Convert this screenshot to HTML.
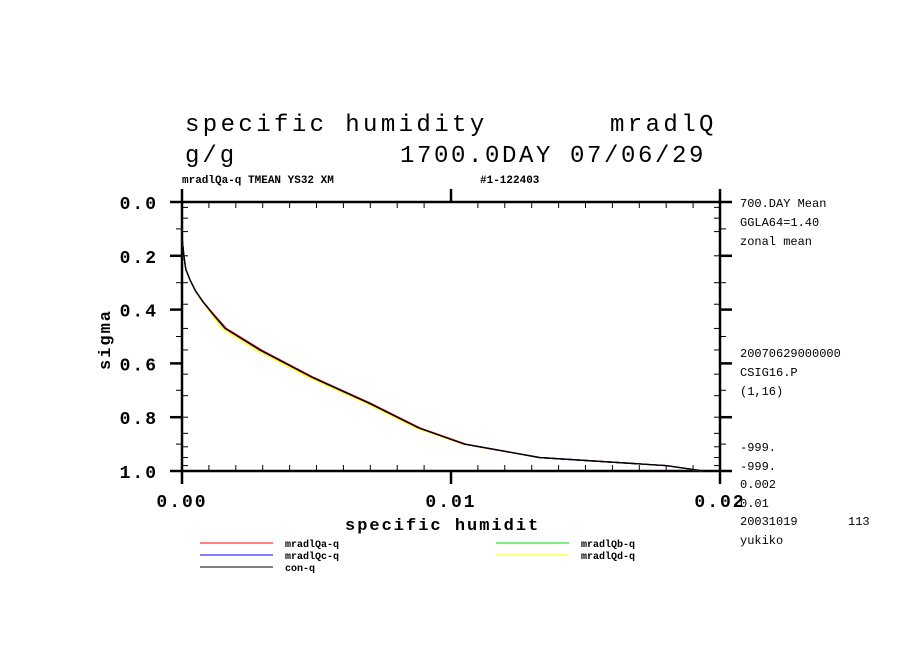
<!DOCTYPE html>
<html><head><meta charset="utf-8"><style>
body{margin:0;background:#fff;}
svg{display:block;font-family:"Liberation Mono","DejaVu Sans Mono",monospace;}
</style></head><body>
<svg id="chart" width="904" height="654">
<text x="185" y="131" font-size="24" letter-spacing="3.4">specific humidity</text>
<text x="610" y="131" font-size="24" letter-spacing="3.4">mradlQ</text>
<text x="185" y="162" font-size="24" letter-spacing="3">g/g</text>
<text x="400" y="162" font-size="24" letter-spacing="2.6">1700.0DAY 07/06/29</text>
<text x="182" y="183" font-size="11" font-weight="bold">mradlQa-q TMEAN YS32 XM</text>
<text x="480" y="183" font-size="11" font-weight="bold">#1-122403</text>
<g id="axes"></g>
<g id="series"></g>
<text x="110" y="370" font-size="17" font-weight="bold" transform="rotate(-90 110 370)" letter-spacing="2">sigma</text>
<text x="345" y="530" font-size="17" font-weight="bold" letter-spacing="2">specific humidit</text>
<g font-size="12">
<text x="740" y="207">700.DAY Mean</text>
<text x="740" y="226">GGLA64=1.40</text>
<text x="740" y="245">zonal mean</text>
<text x="740" y="357">20070629000000</text>
<text x="740" y="376">CSIG16.P</text>
<text x="740" y="395">(1,16)</text>
<text x="740" y="451">-999.</text>
<text x="740" y="470">-999.</text>
<text x="740" y="488">0.002</text>
<text x="740" y="507">0.01</text>
<text x="740" y="525">20031019</text><text x="848" y="525">113</text>
<text x="740" y="544">yukiko</text>
</g>
<g id="legend"></g>
</svg>
<script>
const xTicks=[0,0.01,0.02];
const xTickLabels=["0.00","0.01","0.02"];
const yTicks=[0,0.2,0.4,0.6,0.8,1.0];
const yTickLabels=["0.0","0.2","0.4","0.6","0.8","1.0"];
const sigma=[0.15,0.2,0.25,0.29,0.33,0.37,0.42,0.47,0.55,0.65,0.75,0.84,0.90,0.95,0.98,1.0];
const qA=[0.00002,0.00007,0.00014,0.00030,0.00050,0.00078,0.00120,0.00165,0.00295,0.00485,0.00705,0.00885,0.01055,0.01330,0.01800,0.01940];
const qB=[0.00002,0.00007,0.00014,0.00030,0.00050,0.00077,0.00118,0.00160,0.00290,0.00480,0.00700,0.00880,0.01050,0.01330,0.01800,0.01940];
const qC=[0.00002,0.00007,0.00014,0.00030,0.00050,0.00077,0.00117,0.00160,0.00288,0.00480,0.00700,0.00880,0.01050,0.01330,0.01800,0.01940];
const qD=[0.00002,0.00007,0.00014,0.00030,0.00049,0.00075,0.00112,0.00150,0.00275,0.00468,0.00690,0.00870,0.01045,0.01325,0.01795,0.01935];
const qCon=[0.00002,0.00007,0.00014,0.00030,0.00050,0.00077,0.00118,0.00160,0.00290,0.00480,0.00700,0.00880,0.01050,0.01330,0.01800,0.01940];
const seriesNames=["mradlQa-q","mradlQb-q","mradlQc-q","mradlQd-q","con-q"];
const minorSig=[0.02,0.06,0.11,0.2,0.3,0.38,0.47,0.55,0.64,0.72,0.8,0.86,0.91,0.95,0.98];
const NS="http://www.w3.org/2000/svg";
const X0=182,X1=720,Y0=202,Y1=471;
const sx=v=>X0+v/0.02*(X1-X0);
const sy=v=>Y0+v*(Y1-Y0);
function mk(t,a,p){const e=document.createElementNS(NS,t);for(const k in a)e.setAttribute(k,a[k]);p.appendChild(e);return e;}
const ax=document.getElementById('axes');
const fr=mk('rect',{x:X0,y:Y0,width:X1-X0,height:Y1-Y0,fill:'none',stroke:'#000','stroke-width':2.5},ax);


xTicks.forEach((v,i)=>{
 mk('line',{x1:sx(v),x2:sx(v),y1:Y1,y2:Y1+13,stroke:'#000','stroke-width':2.5},ax);
 mk('line',{x1:sx(v),x2:sx(v),y1:Y0,y2:Y0-13,stroke:'#000','stroke-width':2.5},ax);
 const t=mk('text',{x:sx(v),y:Y1+36,'font-size':18,'font-weight':'bold','text-anchor':'middle','letter-spacing':2},ax);
 t.textContent=xTickLabels[i];
 
 
});
for(let k=1;k<20;k++){if(k%10===0)continue;const v=k*0.001;
 mk('line',{x1:sx(v),x2:sx(v),y1:Y1,y2:Y1-6,stroke:'#000'},ax);
 mk('line',{x1:sx(v),x2:sx(v),y1:Y0,y2:Y0+6,stroke:'#000'},ax);}
yTicks.forEach((v,i)=>{
 mk('line',{x1:X0-12,x2:X0,y1:sy(v),y2:sy(v),stroke:'#000','stroke-width':2.5},ax);
 mk('line',{x1:X1,x2:X1+12,y1:sy(v),y2:sy(v),stroke:'#000','stroke-width':2.5},ax);
 const t=mk('text',{x:X0-24,y:sy(v)+7,'font-size':18,'font-weight':'bold','text-anchor':'end','letter-spacing':2},ax);
 t.textContent=yTickLabels[i];
 
 
});
for(let k=1;k<10;k+=2){const v=k*0.1;
 mk('line',{x1:X0-6,x2:X0,y1:sy(v),y2:sy(v),stroke:'#000'},ax);
 mk('line',{x1:X1,x2:X1+6,y1:sy(v),y2:sy(v),stroke:'#000'},ax);}
minorSig.forEach(v=>{
 mk('line',{x1:X0,x2:X0+6,y1:sy(v),y2:sy(v),stroke:'#000'},ax);
 mk('line',{x1:X1-6,x2:X1,y1:sy(v),y2:sy(v),stroke:'#000'},ax);});
const sg=document.getElementById('series');
const data=[[qD,'#ffff00'],[qB,'#00cc00'],[qA,'#ff0000'],[qC,'#0000ff'],[qCon,'#000000']];
const sn=['series-mradlqd','series-mradlqb','series-mradlqa','series-mradlqc','series-con'];
data.forEach(([q,c],i)=>{
 const pts=[[sx(0),sy(0.1)]].concat(q.map((v,j)=>[sx(v),sy(sigma[j])]));
 const p=mk('polyline',{points:pts.map(p=>p.join(',')).join(' '),fill:'none',stroke:c,'stroke-width':1.3},sg);
 
 
});
const lg=document.getElementById('legend');
const leg=[[200,543,'#ff0000',0],[200,555,'#0000ff',2],[200,567,'#000000',4],[496,543,'#00dd00',1],[496,555,'#ffff00',3]];
leg.forEach(([x,y,c,i])=>{
 const g=mk('g',{},lg);
 
 
 mk('line',{x1:x,x2:x+73,y1:y,y2:y,stroke:c},g);
 const t=mk('text',{x:x+85,y:y+4,'font-size':10,'font-weight':'bold'},g);
 t.textContent=seriesNames[i];
});
</script>
</body></html>
